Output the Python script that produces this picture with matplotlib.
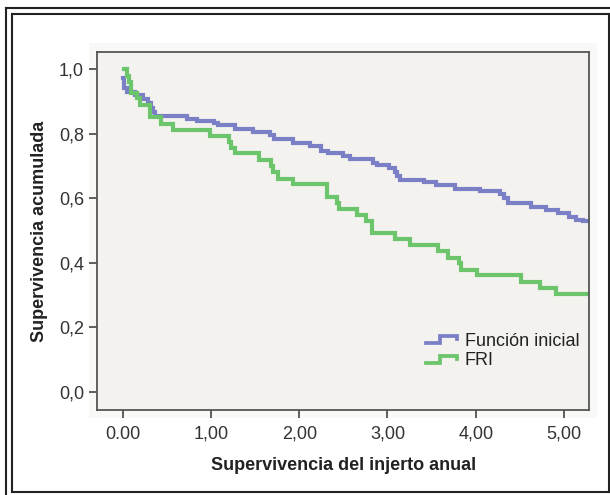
import matplotlib
matplotlib.use("Agg")
import matplotlib.pyplot as plt
from matplotlib.lines import Line2D
from matplotlib.patches import Rectangle
from matplotlib.legend_handler import HandlerBase

plt.rcParams['font.family'] = ['Liberation Sans', 'DejaVu Sans']

# Kaplan-Meier steps (time in years, cumulative survival)
t_inicial = [0.00, 0.01, 0.05, 0.14, 0.23, 0.29, 0.32, 0.34, 0.37, 0.73, 0.84,
             1.04, 1.08, 1.27, 1.48, 1.67, 1.71, 1.93, 2.12, 2.25, 2.33, 2.50,
             2.58, 2.84, 2.88, 3.02, 3.08, 3.11, 3.14, 3.41, 3.55, 3.76, 4.05,
             4.27, 4.32, 4.36, 4.63, 4.79, 4.93, 5.06, 5.14, 5.21, 5.29]
s_inicial = [0.972, 0.940, 0.930, 0.920, 0.906, 0.894, 0.880, 0.866, 0.856, 0.845, 0.839,
             0.833, 0.826, 0.816, 0.806, 0.797, 0.785, 0.772, 0.762, 0.747, 0.740, 0.730,
             0.721, 0.710, 0.703, 0.693, 0.682, 0.670, 0.656, 0.649, 0.640, 0.628, 0.621,
             0.612, 0.600, 0.585, 0.573, 0.563, 0.553, 0.543, 0.533, 0.528, 0.528]

t_fri = [0.01, 0.05, 0.07, 0.09, 0.10, 0.16, 0.20, 0.31, 0.44, 0.57, 0.99,
         1.20, 1.23, 1.27, 1.55, 1.68, 1.70, 1.76, 1.93, 2.32, 2.43, 2.45,
         2.65, 2.76, 2.82, 3.09, 3.25, 3.57, 3.68, 3.81, 3.83, 4.01, 4.51,
         4.73, 4.91, 5.29]
s_fri = [1.000, 0.980, 0.960, 0.940, 0.925, 0.909, 0.889, 0.852, 0.830, 0.810, 0.792,
         0.775, 0.756, 0.739, 0.717, 0.699, 0.680, 0.661, 0.643, 0.603, 0.585, 0.568,
         0.549, 0.530, 0.491, 0.474, 0.455, 0.436, 0.416, 0.398, 0.379, 0.361, 0.341,
         0.321, 0.302, 0.302]

xticks = [0, 1, 2, 3, 4, 5]
xtick_labels = ['0.00', '1,00', '2,00', '3,00', '4,00', '5,00']
yticks = [0.0, 0.2, 0.4, 0.6, 0.8, 1.0]
ytick_labels = ['0,0', '0,2', '0,4', '0,6', '0,8', '1,0']

blue = '#7b7fc6'
green = '#6cc46b'


class StepHandler(HandlerBase):
    # small step-shaped glyph like the SPSS legend
    def create_artists(self, legend, orig_handle, xdescent, ydescent,
                       width, height, fontsize, trans):
        w, h = width, height
        xs = [-xdescent, -xdescent + 0.45 * w, -xdescent + 0.45 * w, -xdescent + w, -xdescent + w]
        ys = [-ydescent + 0.2 * h, -ydescent + 0.2 * h, -ydescent + 0.75 * h,
              -ydescent + 0.75 * h, -ydescent + 0.5 * h]
        ln = Line2D(xs, ys, color=orig_handle.get_color(),
                    lw=orig_handle.get_linewidth() * 0.9, solid_joinstyle='miter')
        ln.set_transform(trans)
        return [ln]


W, H = 610, 495
fig = plt.figure(figsize=(W / 100, H / 100), dpi=100)

# double frame around the figure
def fline(x0, y0, x1, y1, lw=1.5):
    fig.add_artist(Line2D([x0 / W, x1 / W], [1 - y0 / H, 1 - y1 / H],
                          transform=fig.transFigure, color='#222222', lw=lw))

fline(6, 7.5, 6, 495)
fline(6, 7.5, 610, 7.5)
fline(12, 14, 12, 492)
fline(12, 14, 608.5, 14)
fline(608.5, 14, 608.5, 492)
fline(12, 492, 608.5, 492)

# faint chart backdrop
fig.add_artist(Rectangle((89 / W, 1 - 418 / H), (597 - 89) / W, (418 - 43) / H,
                         transform=fig.transFigure, facecolor='#f8f8f6',
                         edgecolor='none', zorder=0))

ax = fig.add_axes([97.3 / W, 1 - 410 / H, (589.3 - 97.3) / W, (410 - 52) / H])
ax.set_facecolor('#f3f2ee')

l1, = ax.step(t_inicial, s_inicial, where='post', color=blue, lw=3,
              label='Función inicial', solid_joinstyle='miter')
l2, = ax.step(t_fri, s_fri, where='post', color=green, lw=3,
              label='FRI', solid_joinstyle='miter')

ax.set_xlim(-0.287, 5.286)
ax.set_ylim(-0.056, 1.053)
ax.set_xticks(xticks)
ax.set_xticklabels(xtick_labels)
ax.set_yticks(yticks)
ax.set_yticklabels(ytick_labels)
ax.tick_params(axis='both', direction='out', length=5.5, width=1.1,
               color='#333333', labelsize=13, labelcolor='#333333')
ax.tick_params(axis='y', pad=4)
ax.tick_params(axis='x', pad=6)
for sp in ax.spines.values():
    sp.set_color('#555555')
    sp.set_linewidth(1.3)

ax.set_xlabel('Supervivencia del injerto anual', fontsize=13, fontweight='bold',
              color='#222222')
ax.set_ylabel('Supervivencia acumulada', fontsize=13, fontweight='bold',
              color='#222222')
ax.xaxis.set_label_coords(0.5, -0.13)
ax.yaxis.set_label_coords(-0.1, 0.5)

ax.legend(handles=[l1, l2], loc='upper left', bbox_to_anchor=(0.668, 0.216),
          frameon=False, fontsize=13, handlelength=1.7, handletextpad=0.45,
          labelspacing=0.15, borderpad=0, borderaxespad=0,
          handler_map={Line2D: StepHandler()}, labelcolor='#222222')

fig.savefig('out.png', dpi=100)
